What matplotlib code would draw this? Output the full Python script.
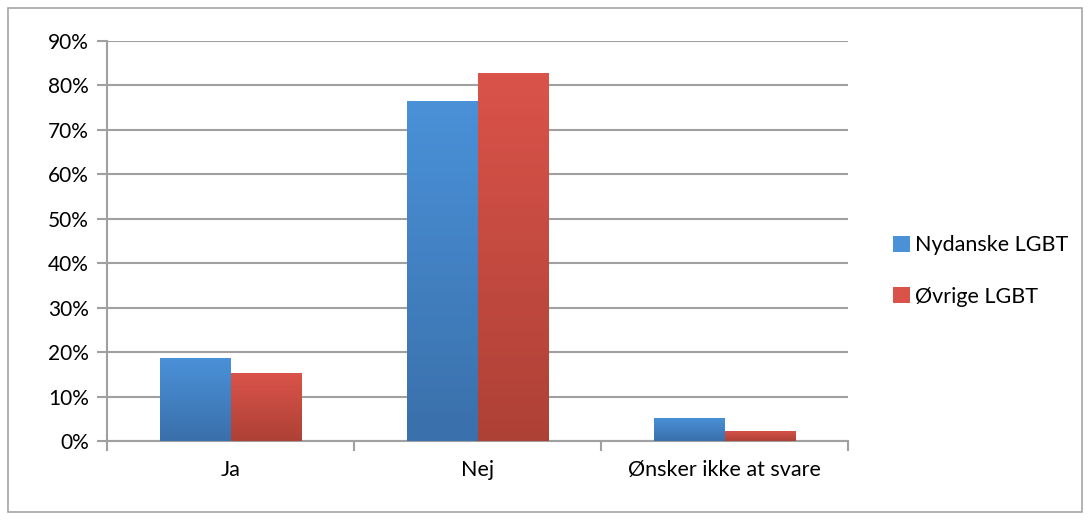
import numpy as np
import matplotlib
matplotlib.use("Agg")
import matplotlib.pyplot as plt
import matplotlib.ticker as mticker
from matplotlib.patches import Patch, Rectangle
from matplotlib.colors import LinearSegmentedColormap

categories = ["Ja", "Nej", "Ønsker ikke at svare"]
series_names = ["Nydanske LGBT", "Øvrige LGBT"]
nydanske = [18.7, 76.6, 5.2]
ovrige = [15.3, 82.7, 2.3]

plt.rcParams['font.family'] = ['Lato', 'DejaVu Sans']

fig = plt.figure(figsize=(10.9, 5.2), dpi=100)
ax = fig.add_axes([107/1090, 1 - 441/520, (848-107)/1090, 400/520])

# outer chart border
fig.patches.append(Rectangle((8/1090, 8/520), 1074/1090, 504/520, transform=fig.transFigure,
                             fill=False, edgecolor="#a6a6a6", lw=1.2))

grads = [("#4a91d8", "#3a70ab"), ("#da534a", "#ae4136")]
x = np.arange(len(categories))
w = 0.287
grey = "#a0a0a0"

for i, (vals, (c_top, c_bot)) in enumerate(zip([nydanske, ovrige], grads)):
    offs = -w/2 if i == 0 else w/2
    bars = ax.bar(x + offs, vals, width=w, color=c_top, zorder=3, lw=0)
    cmap = LinearSegmentedColormap.from_list("g%d" % i, [c_bot, c_top])
    for b in bars:
        x0, h = b.get_x(), b.get_height()
        im = ax.imshow(np.linspace(0, 1, 100).reshape(-1, 1), cmap=cmap, origin="lower",
                       extent=[x0, x0 + b.get_width(), 0, h], aspect="auto", zorder=3.5)
        im.set_clip_path(b)

ax.set_xlim(-0.5, 2.5)
ax.set_ylim(0, 90)
ax.set_yticks(np.arange(0, 91, 10))
ax.yaxis.set_major_formatter(mticker.FuncFormatter(lambda v, p: f"{v:.0f}%"))
ax.set_xticks(x)
ax.set_xticklabels(categories)
ax.set_xticks([-0.5, 0.5, 1.5, 2.5], minor=True)
ax.tick_params(axis="x", which="major", length=0, pad=14, labelsize=15.5)
ax.tick_params(axis="x", which="minor", length=7, width=1.5, color=grey)
ax.tick_params(axis="y", length=7, width=1.5, color=grey, labelsize=15, pad=6)
ax.grid(axis="y", color=grey, lw=1.5, zorder=0)
for s in ["top", "right"]:
    ax.spines[s].set_visible(False)
for s in ["left", "bottom"]:
    ax.spines[s].set_color(grey)
    ax.spines[s].set_linewidth(1.5)

handles = [Patch(facecolor=c[0], edgecolor="none") for c in grads]
fig.legend(handles, series_names, loc="center left", bbox_to_anchor=(874/1090, 1 - 271/520),
           frameon=False, fontsize=15.5, handlelength=0.75, handleheight=0.75,
           handletextpad=0.25, labelspacing=1.45)

plt.savefig("out.png", dpi=100)
